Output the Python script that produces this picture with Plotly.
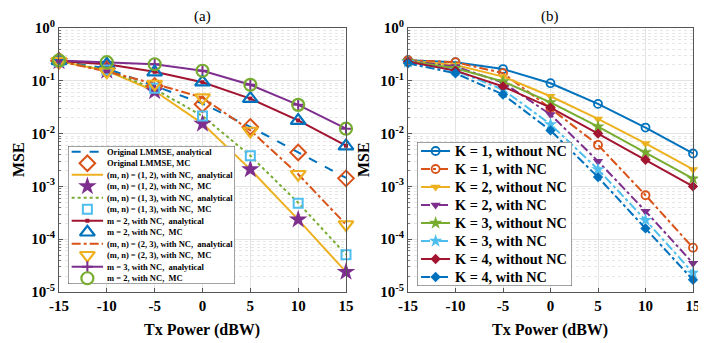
import plotly.graph_objects as go

# Tx power grid (dBW)
tx_power = [-15, -10, -5, 0, 5, 10, 15]

# ---- panel (a) values ----
lmmse_ana = [0.24, 0.17, 0.080, 0.037, 0.0134, 0.0044, 0.00145]
lmmse_mc = [0.24, 0.17, 0.080, 0.036, 0.0134, 0.0044, 0.00142]
p12_ana = [0.235, 0.155, 0.064, 0.0155, 0.0021, 0.000235, 0.000024]
p12_mc = [0.235, 0.155, 0.063, 0.0154, 0.0021, 0.000235, 0.000024]
p13_ana = [0.235, 0.16, 0.070, 0.0215, 0.0038, 0.00049, 0.000051]
p13_mc = [0.235, 0.16, 0.072, 0.0215, 0.0038, 0.00048, 0.000051]
m2_ana = [0.237, 0.205, 0.148, 0.094, 0.046, 0.0178, 0.0059]
m2_mc = [0.237, 0.205, 0.146, 0.094, 0.046, 0.0176, 0.0058]
p23_ana = [0.235, 0.15, 0.088, 0.048, 0.0115, 0.0017, 0.00019]
p23_mc = [0.235, 0.149, 0.087, 0.048, 0.0112, 0.0017, 0.00019]
m3_ana = [0.243, 0.225, 0.206, 0.155, 0.084, 0.035, 0.0124]
m3_mc = [0.243, 0.225, 0.206, 0.155, 0.084, 0.035, 0.0124]

# ---- panel (b) values ----
k1_no = [0.245, 0.225, 0.167, 0.090, 0.0365, 0.0130, 0.0042]
k1_nc = [0.245, 0.225, 0.140, 0.030, 0.0061, 0.00068, 0.000069]
k2_no = [0.24, 0.20, 0.120, 0.051, 0.019, 0.0065, 0.0021]
k2_nc = [0.24, 0.186, 0.093, 0.023, 0.0030, 0.00034, 0.000035]
k3_no = [0.235, 0.173, 0.097, 0.039, 0.0135, 0.0044, 0.0014]
k3_nc = [0.225, 0.156, 0.068, 0.015, 0.0021, 0.00023, 0.000023]
k4_no = [0.23, 0.156, 0.078, 0.031, 0.010, 0.0032, 0.0010]
k4_nc = [0.214, 0.139, 0.055, 0.0115, 0.0015, 0.00016, 0.000017]

x_ticks = [-15, -10, -5, 0, 5, 10, 15]
y_ticks = [1e-5, 1e-4, 1e-3, 1e-2, 1e-1, 1]
y_tick_text = ["10<sup>-5</sup>", "10<sup>-4</sup>", "10<sup>-3</sup>",
               "10<sup>-2</sup>", "10<sup>-1</sup>", "10<sup>0</sup>"]

BLUE = "#0072BD"
ORANGE = "#D95319"
YELLOW = "#EDB120"
PURPLE = "#7E2F8E"
GREEN = "#77AC30"
LBLUE = "#4DBEEE"
DRED = "#A2142F"
FONT = "Liberation Serif"

# the page body keeps an 8px margin, so the figure is drawn 8px smaller
# and window positions are shifted by that amount
PAGE_OFF = 8
W, H = 706 - PAGE_OFF, 343 - PAGE_OFF


def px(v):
    return (v - PAGE_OFF) / W


def py(v):
    return 1 - (v - PAGE_OFF) / H


# series for panel (a): (name, y, mode, line, marker)
series_a = [
    ("Original LMMSE, analytical", lmmse_ana, "lines",
     dict(color=BLUE, width=2, dash="dash"), None),
    ("Original LMMSE, MC", lmmse_mc, "markers", None,
     dict(symbol="diamond-open", size=12, color=ORANGE, line=dict(width=2))),
    ("(m, n) = (1, 2), with NC,  analytical", p12_ana, "lines",
     dict(color=YELLOW, width=2), None),
    ("(m, n) = (1, 2), with NC,  MC", p12_mc, "markers", None,
     dict(symbol="star", size=14, color=PURPLE, line=dict(width=0))),
    ("(m, n) = (1, 3), with NC,  analytical", p13_ana, "lines",
     dict(color=GREEN, width=2, dash="dot"), None),
    ("(m, n) = (1, 3), with NC,  MC", p13_mc, "markers", None,
     dict(symbol="square-open", size=9, color=LBLUE, line=dict(width=2))),
    ("m = 2, with NC,  analytical", m2_ana, "lines+markers",
     dict(color=DRED, width=2),
     dict(symbol="square", size=4, color=DRED)),
    ("m = 2, with NC,  MC", m2_mc, "markers", None,
     dict(symbol="triangle-up-open", size=13, color=BLUE, line=dict(width=2.2))),
    ("(m, n) = (2, 3), with NC,  analytical", p23_ana, "lines",
     dict(color=ORANGE, width=2, dash="dashdot"), None),
    ("(m, n) = (2, 3), with NC,  MC", p23_mc, "markers", None,
     dict(symbol="triangle-down-open", size=13, color=YELLOW, line=dict(width=2.2))),
    ("m = 3, with NC,  analytical", m3_ana, "lines+markers",
     dict(color=PURPLE, width=2),
     dict(symbol="cross-thin", size=8, color=PURPLE, line=dict(width=2, color=PURPLE))),
    ("m = 2, with NC,  MC", m3_mc, "markers", None,
     dict(symbol="circle-open", size=12, color=GREEN, line=dict(width=2.2))),
]

series_b = [
    ("K = 1, without NC", k1_no, dict(color=BLUE, width=2),
     dict(symbol="circle-open", size=8, color=BLUE, line=dict(width=1.8))),
    ("K = 1, with NC", k1_nc, dict(color=ORANGE, width=2, dash="dashdot"),
     dict(symbol="circle-open", size=8, color=ORANGE, line=dict(width=1.8))),
    ("K = 2, without NC", k2_no, dict(color=YELLOW, width=2),
     dict(symbol="triangle-down", size=9, color=YELLOW)),
    ("K = 2, with NC", k2_nc, dict(color=PURPLE, width=2, dash="dashdot"),
     dict(symbol="triangle-down", size=9, color=PURPLE)),
    ("K = 3, without NC", k3_no, dict(color=GREEN, width=2),
     dict(symbol="star", size=10, color=GREEN)),
    ("K = 3, with NC", k3_nc, dict(color=LBLUE, width=2, dash="dashdot"),
     dict(symbol="star", size=10, color=LBLUE)),
    ("K = 4, without NC", k4_no, dict(color=DRED, width=2),
     dict(symbol="diamond", size=8, color=DRED)),
    ("K = 4, with NC", k4_nc, dict(color=BLUE, width=2, dash="dashdot"),
     dict(symbol="diamond", size=8, color=BLUE)),
]

fig = go.Figure()

# panel (a): lines first, markers on top
for name, y, mode, line, marker in series_a:
    if "lines" in mode:
        fig.add_trace(go.Scatter(x=tx_power, y=y, mode=mode, line=line, marker=marker,
                                 name=name, showlegend=False, cliponaxis=False,
                                 xaxis="x", yaxis="y"))
for name, y, mode, line, marker in series_a:
    if mode == "markers":
        fig.add_trace(go.Scatter(x=tx_power, y=y, mode=mode, marker=marker,
                                 name=name, showlegend=False, cliponaxis=False,
                                 xaxis="x", yaxis="y"))

# panel (b)
for name, y, line, marker in series_b:
    fig.add_trace(go.Scatter(x=tx_power, y=y, mode="lines+markers", line=line,
                             marker=marker, name=name, showlegend=False,
                             cliponaxis=False, xaxis="x2", yaxis="y2"))


def add_box_legend(fig, ax, box, entries, font_size, line_x, mark_x, text_x):
    """Draw a compact MATLAB-like legend on its own hidden axis pair."""
    n = len(entries)
    fig.add_trace(go.Scatter(x=[0, 1, 1, 0, 0], y=[0, 0, n, n, 0], mode="lines",
                             fill="toself", fillcolor="white",
                             line=dict(color="#444", width=1), hoverinfo="skip",
                             showlegend=False, xaxis="x" + ax, yaxis="y" + ax))
    for i, (name, line, marker) in enumerate(entries):
        row = i + 0.5
        if line is not None:
            fig.add_trace(go.Scatter(x=line_x, y=[row, row], mode="lines", line=line,
                                     hoverinfo="skip", showlegend=False,
                                     xaxis="x" + ax, yaxis="y" + ax))
        if marker is not None:
            fig.add_trace(go.Scatter(x=[mark_x], y=[row], mode="markers", marker=marker,
                                     hoverinfo="skip", showlegend=False, cliponaxis=False,
                                     xaxis="x" + ax, yaxis="y" + ax))
        fig.add_annotation(x=text_x, y=row, xref="x" + ax, yref="y" + ax, text="<b>%s</b>" % name,
                           showarrow=False, xanchor="left", yanchor="middle",
                           font=dict(family=FONT, size=font_size, color="black"))
    dom_x = [px(box[0]), px(box[1])]
    dom_y = [py(box[3]), py(box[2])]
    fig.layout["xaxis" + ax] = dict(domain=dom_x, range=[0, 1], visible=False,
                                    fixedrange=True, anchor="y" + ax)
    fig.layout["yaxis" + ax] = dict(domain=dom_y, range=[n, 0], visible=False,
                                    fixedrange=True, anchor="x" + ax)


entries_a = [(s[0], s[3], s[4]) for s in series_a]
add_box_legend(fig, "3", (68, 235, 146, 284), entries_a, 8.5,
               [0.022, 0.21], 0.116, 0.222)
entries_b = [(s[0], s[2], s[3]) for s in series_b]
add_box_legend(fig, "4", (417, 572, 142, 286), entries_b, 14.3,
               [0.026, 0.213], 0.12, 0.232)

axis_x = dict(range=[-15, 15], tickvals=x_ticks, ticktext=["<b>%d</b>" % v for v in x_ticks],
              showgrid=True, gridcolor="#e3e3e3", gridwidth=1, zeroline=False,
              showline=True, linecolor="#555", linewidth=1, mirror=True,
              ticks="inside", ticklen=4, tickcolor="#555", automargin=False,
              tickfont=dict(family=FONT, size=15, color="black"))
axis_y = dict(type="log", range=[-5, 0], tickvals=y_ticks,
              ticktext=["<b>%s</b>" % t for t in y_tick_text],
              showgrid=True, gridcolor="#e3e3e3", gridwidth=1, zeroline=False,
              showline=True, linecolor="#555", linewidth=1, mirror=True,
              ticks="inside", ticklen=4, tickcolor="#555", automargin=False,
              minor=dict(dtick="D1", showgrid=True, gridcolor="#e6e6e6",
                         griddash="dot", ticks="inside", ticklen=2, tickcolor="#777"),
              tickfont=dict(family=FONT, size=15, color="black"))

fig.update_layout(
    width=W, height=H,
    margin=dict(l=0, r=0, t=0, b=0, pad=0, autoexpand=False),
    paper_bgcolor="white", plot_bgcolor="white",
    showlegend=False,
    font=dict(family=FONT, color="black"),
    xaxis=dict(axis_x, domain=[px(59), px(346)], anchor="y"),
    yaxis=dict(axis_y, domain=[py(292), py(28)], anchor="x"),
    xaxis2=dict(axis_x, domain=[px(408), px(693)], anchor="y2"),
    yaxis2=dict(axis_y, domain=[py(292), py(28)], anchor="x2"),
)

# panel titles and axis titles
for text, x, y, size, angle in [
    ("(a)", 202, 17, 15, 0), ("(b)", 550, 17, 15, 0),
    ("<b>Tx Power (dBW)</b>", 202, 330, 16, 0), ("<b>Tx Power (dBW)</b>", 550, 330, 16, 0),
    ("<b>MSE</b>", 18, 160, 16, -90), ("<b>MSE</b>", 363, 160, 16, -90),
]:
    fig.add_annotation(x=px(x), y=py(y), xref="paper", yref="paper", text=text,
                       showarrow=False, textangle=angle, xanchor="center", yanchor="middle",
                       font=dict(family=FONT, size=size, color="black"))

fig.write_html("out.html")
